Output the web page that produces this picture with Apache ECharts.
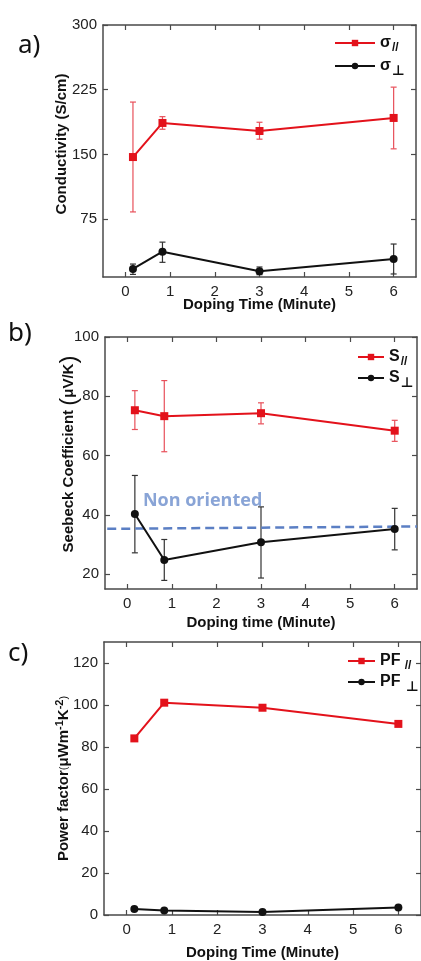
<!DOCTYPE html>
<html><head><meta charset="utf-8">
<script src="https://cdn.jsdelivr.net/npm/echarts@6/dist/echarts.min.js"></script>
<style>html,body{margin:0;padding:0;background:#fff}#c{width:421px;height:961px}</style>
</head><body><div id="c"></div>
<script>
// ---- data ----
const times = [0.17, 0.83, 3, 6];
const xTickValues = [0, 1, 2, 3, 4, 5, 6];

const condPar = [147, 186.5, 177.2, 192.3];
const condParLow = [83.4, 179.2, 167.7, 156.5];
const condParHigh = [210.7, 193.8, 187.3, 228];
const condPerp = [17.3, 37.3, 14.6, 28.8];
const condPerpLow = [11, 25, 10.7, 11.5];
const condPerpHigh = [23, 48.4, 19.6, 46.2];
const condTicks = [75, 150, 225, 300];

const seebPar = [75.3, 73.3, 74.3, 68.4];
const seebParLow = [68.8, 61.3, 70.7, 64.8];
const seebParHigh = [81.9, 85.3, 77.8, 71.9];
const seebPerp = [40.3, 24.8, 30.8, 35.2];
const seebPerpLow = [27.2, 17.9, 18.7, 28.2];
const seebPerpHigh = [53.3, 31.7, 42.7, 42.2];
const seebTicks = [20, 40, 60, 80, 100];
const nonOrientedX = [-0.45, 6.5];
const nonOrientedY = [35.3, 36.1];
const nonOrientedLabel = ['Non oriented'];

const pfPar = [84.1, 101.1, 98.7, 91];
const pfPerp = [2.9, 2.2, 1.4, 3.6];
const pfTicks = [0, 20, 40, 60, 80, 100, 120];

// ---- styling ----
const RED = '#e3121b', RED_ERR = '#e8505a', BLACK = '#111111', BLACK_ERR = '#333333', BLUE = '#5b7fc4';
const AX = '#4a4a4a';
const FONT = '"Liberation Sans", Arial, sans-serif';

const pairs = (xs, ys) => xs.map((x, i) => [x, ys[i]]);
const errData = (lo, hi) => times.map((t, i) => [t, lo[i], hi[i]]);

function errSeries(idx, lo, hi, color) {
  return {
    type: 'custom', xAxisIndex: idx * 2, yAxisIndex: idx * 2, z: 1, silent: true,
    encode: { x: 0, y: [1, 2] },
    data: errData(lo, hi),
    renderItem: function (params, api) {
      const x = api.value(0);
      const top = api.coord([x, api.value(2)]);
      const bot = api.coord([x, api.value(1)]);
      const w = 3;
      const st = { stroke: color, lineWidth: 1.2 };
      return { type: 'group', children: [
        { type: 'line', shape: { x1: top[0], y1: top[1], x2: bot[0], y2: bot[1] }, style: st },
        { type: 'line', shape: { x1: top[0] - w, y1: top[1], x2: top[0] + w, y2: top[1] }, style: st },
        { type: 'line', shape: { x1: bot[0] - w, y1: bot[1], x2: bot[0] + w, y2: bot[1] }, style: st }
      ]};
    }
  };
}

function lineSeries(idx, name, ys, color, symbol, size) {
  return {
    type: 'line', name: name, xAxisIndex: idx * 2, yAxisIndex: idx * 2, z: 3,
    data: pairs(times, ys), symbol: symbol, symbolSize: size, showSymbol: true,
    lineStyle: { color: color, width: 2 }, itemStyle: { color: color }, animation: false
  };
}

function xAxes(gi, name, nameGap) {
  const base = { type: 'value', gridIndex: gi, min: -0.5, max: 6.5,
    splitLine: { show: false },
    axisLine: { show: true, onZero: false, lineStyle: { color: AX, width: 1.5 } },
    axisTick: { show: true, inside: true, length: 5, customValues: xTickValues, lineStyle: { color: AX, width: 1.2 } } };
  return [
    Object.assign({}, base, { position: 'bottom', name: name, nameLocation: 'middle', nameGap: nameGap,
      nameMoveOverlap: false,
      nameTextStyle: { fontFamily: FONT, fontWeight: 'bold', fontSize: 15, color: '#111' },
      axisLabel: { show: true, customValues: xTickValues, margin: 7, fontFamily: FONT, fontSize: 15, color: '#222' } }),
    Object.assign({}, base, { position: 'top', axisLabel: { show: false } })
  ];
}

function yAxes(gi, min, max, ticks, name, nameGap, rich, pad) {
  const base = { type: 'value', gridIndex: gi, min: min, max: max,
    splitLine: { show: false },
    axisLine: { show: true, onZero: false, lineStyle: { color: AX, width: 1.5 } },
    axisTick: { show: true, inside: true, length: 5, customValues: ticks, lineStyle: { color: AX, width: 1.2 } } };
  return [
    Object.assign({}, base, { position: 'left', name: name, nameLocation: 'middle', nameGap: nameGap, nameRotate: 90,
      nameMoveOverlap: false,
      nameTextStyle: { fontFamily: FONT, fontWeight: 'bold', fontSize: 15, color: '#111', rich: rich, padding: pad },
      axisLabel: { show: true, customValues: ticks, margin: 6, fontFamily: FONT, fontSize: 15, color: '#222' } }),
    Object.assign({}, base, { position: 'right', axisLabel: { show: false } })
  ];
}

const legendRich = {
  m: { fontFamily: FONT, fontWeight: 'bold', fontSize: 16, color: '#111' },
  s: { fontFamily: FONT, fontWeight: 'bold', fontSize: 12, color: '#111', padding: [10, 0, 0, 1], verticalAlign: 'bottom' },
  p: { fontFamily: '"DejaVu Sans", sans-serif', fontWeight: 'bold', fontSize: 14, color: '#111', padding: [10, 0, 0, 1], verticalAlign: 'bottom' }
};
const legendText = {
  'σ//': '{m|σ}{s|//}', 'σ⊥': '{m|σ}{p|⊥}',
  'S//': '{m|S}{s|//}', 'S⊥': '{m|S}{p|⊥}',
  'PF//': '{m|PF}{s| //}', 'PF⊥': '{m|PF }{p|⊥}'
};
function legend(names, left, top, w, gap) {
  return { data: names, orient: 'vertical', left: left, top: top, itemWidth: w, itemHeight: 8, itemGap: gap,
    padding: 0, selectedMode: false,
    formatter: n => legendText[n], textStyle: { rich: legendRich } };
}

const option = {
  animation: false,
  backgroundColor: '#fff',
  grid: [
    { left: 103, top: 25, right: 5, height: 252 },
    { left: 105, top: 337, right: 4, height: 252 },
    { left: 104, top: 642, right: -3, height: 273 }
  ],
  xAxis: [].concat(
    xAxes(0, 'Doping Time (Minute)', 20),
    xAxes(1, 'Doping time (Minute)', 26),
    xAxes(2, 'Doping Time (Minute)', 30)
  ),
  yAxis: [].concat(
    yAxes(0, 8, 300, condTicks, 'Conductivity (S/cm)', 34, null, [0, 0, 0, 14]),
    yAxes(1, 15, 100, seebTicks, '{b|Seebeck Coefficient }{p|(}{b|μV/K}{p|)}', 24, {
      b: { fontFamily: FONT, fontWeight: 'bold', fontSize: 15, color: '#111' },
      p: { fontFamily: FONT, fontWeight: 'normal', fontSize: 24, color: '#111' }
    }, [0, 0, 0, 18]),
    yAxes(2, 0, 130, pfTicks, '{b|Power factor}{q|(}{b|μWm}{sup|-1}{b|K}{sup|-2}{q|)}', 31, {
      b: { fontFamily: FONT, fontWeight: 'bold', fontSize: 15, color: '#111' },
      q: { fontFamily: FONT, fontWeight: 'normal', fontSize: 11, color: '#111' },
      sup: { fontFamily: FONT, fontWeight: 'bold', fontSize: 11, color: '#111', padding: [0, 0, 8, 0], verticalAlign: 'top' }
    }, 0)
  ),
  legend: [
    legend(['σ//', 'σ⊥'], 334, 35, 40, 4),
    legend(['S//', 'S⊥'], 357, 349, 26, 2),
    legend(['PF//', 'PF⊥'], 347, 653, 27, 2)
  ],
  graphic: [
    { type: 'text', left: 18, top: 33, style: { text: 'a)', font: '26px "Noto Sans", "Open Sans", sans-serif', fill: '#111' } },
    { type: 'text', left: 8, top: 321, style: { text: 'b)', font: '26px "Noto Sans", "Open Sans", sans-serif', fill: '#111' } },
    { type: 'text', left: 8, top: 641, style: { text: 'c)', font: '26px "Noto Sans", "Open Sans", sans-serif', fill: '#111' } }
  ],
  series: [
    errSeries(0, condParLow, condParHigh, RED_ERR),
    errSeries(0, condPerpLow, condPerpHigh, BLACK_ERR),
    lineSeries(0, 'σ//', condPar, RED, 'rect', 8),
    lineSeries(0, 'σ⊥', condPerp, BLACK, 'circle', 8),

    errSeries(1, seebParLow, seebParHigh, RED_ERR),
    errSeries(1, seebPerpLow, seebPerpHigh, BLACK_ERR),
    {
      type: 'line', name: 'nonoriented', xAxisIndex: 2, yAxisIndex: 2, z: 2, symbol: 'none',
      data: pairs(nonOrientedX, nonOrientedY),
      lineStyle: { color: BLUE, width: 2.5, type: [9, 5] }, animation: false
    },
    {
      type: 'scatter', xAxisIndex: 2, yAxisIndex: 2, symbolSize: 0, z: 2, silent: true,
      data: [[0.35, 44.6]],
      label: { show: true, position: 'right', distance: 0, formatter: () => nonOrientedLabel[0],
        fontFamily: '"Open Sans", "Noto Sans", sans-serif', fontWeight: 'bold', fontSize: 18, color: '#6b8dcc' }
    },
    lineSeries(1, 'S//', seebPar, RED, 'rect', 8),
    lineSeries(1, 'S⊥', seebPerp, BLACK, 'circle', 8),

    lineSeries(2, 'PF//', pfPar, RED, 'rect', 8),
    lineSeries(2, 'PF⊥', pfPerp, BLACK, 'circle', 8)
  ]
};

const chart = echarts.init(document.getElementById('c'), null, { renderer: 'canvas' });
chart.setOption(option);
</script>
</body></html>
